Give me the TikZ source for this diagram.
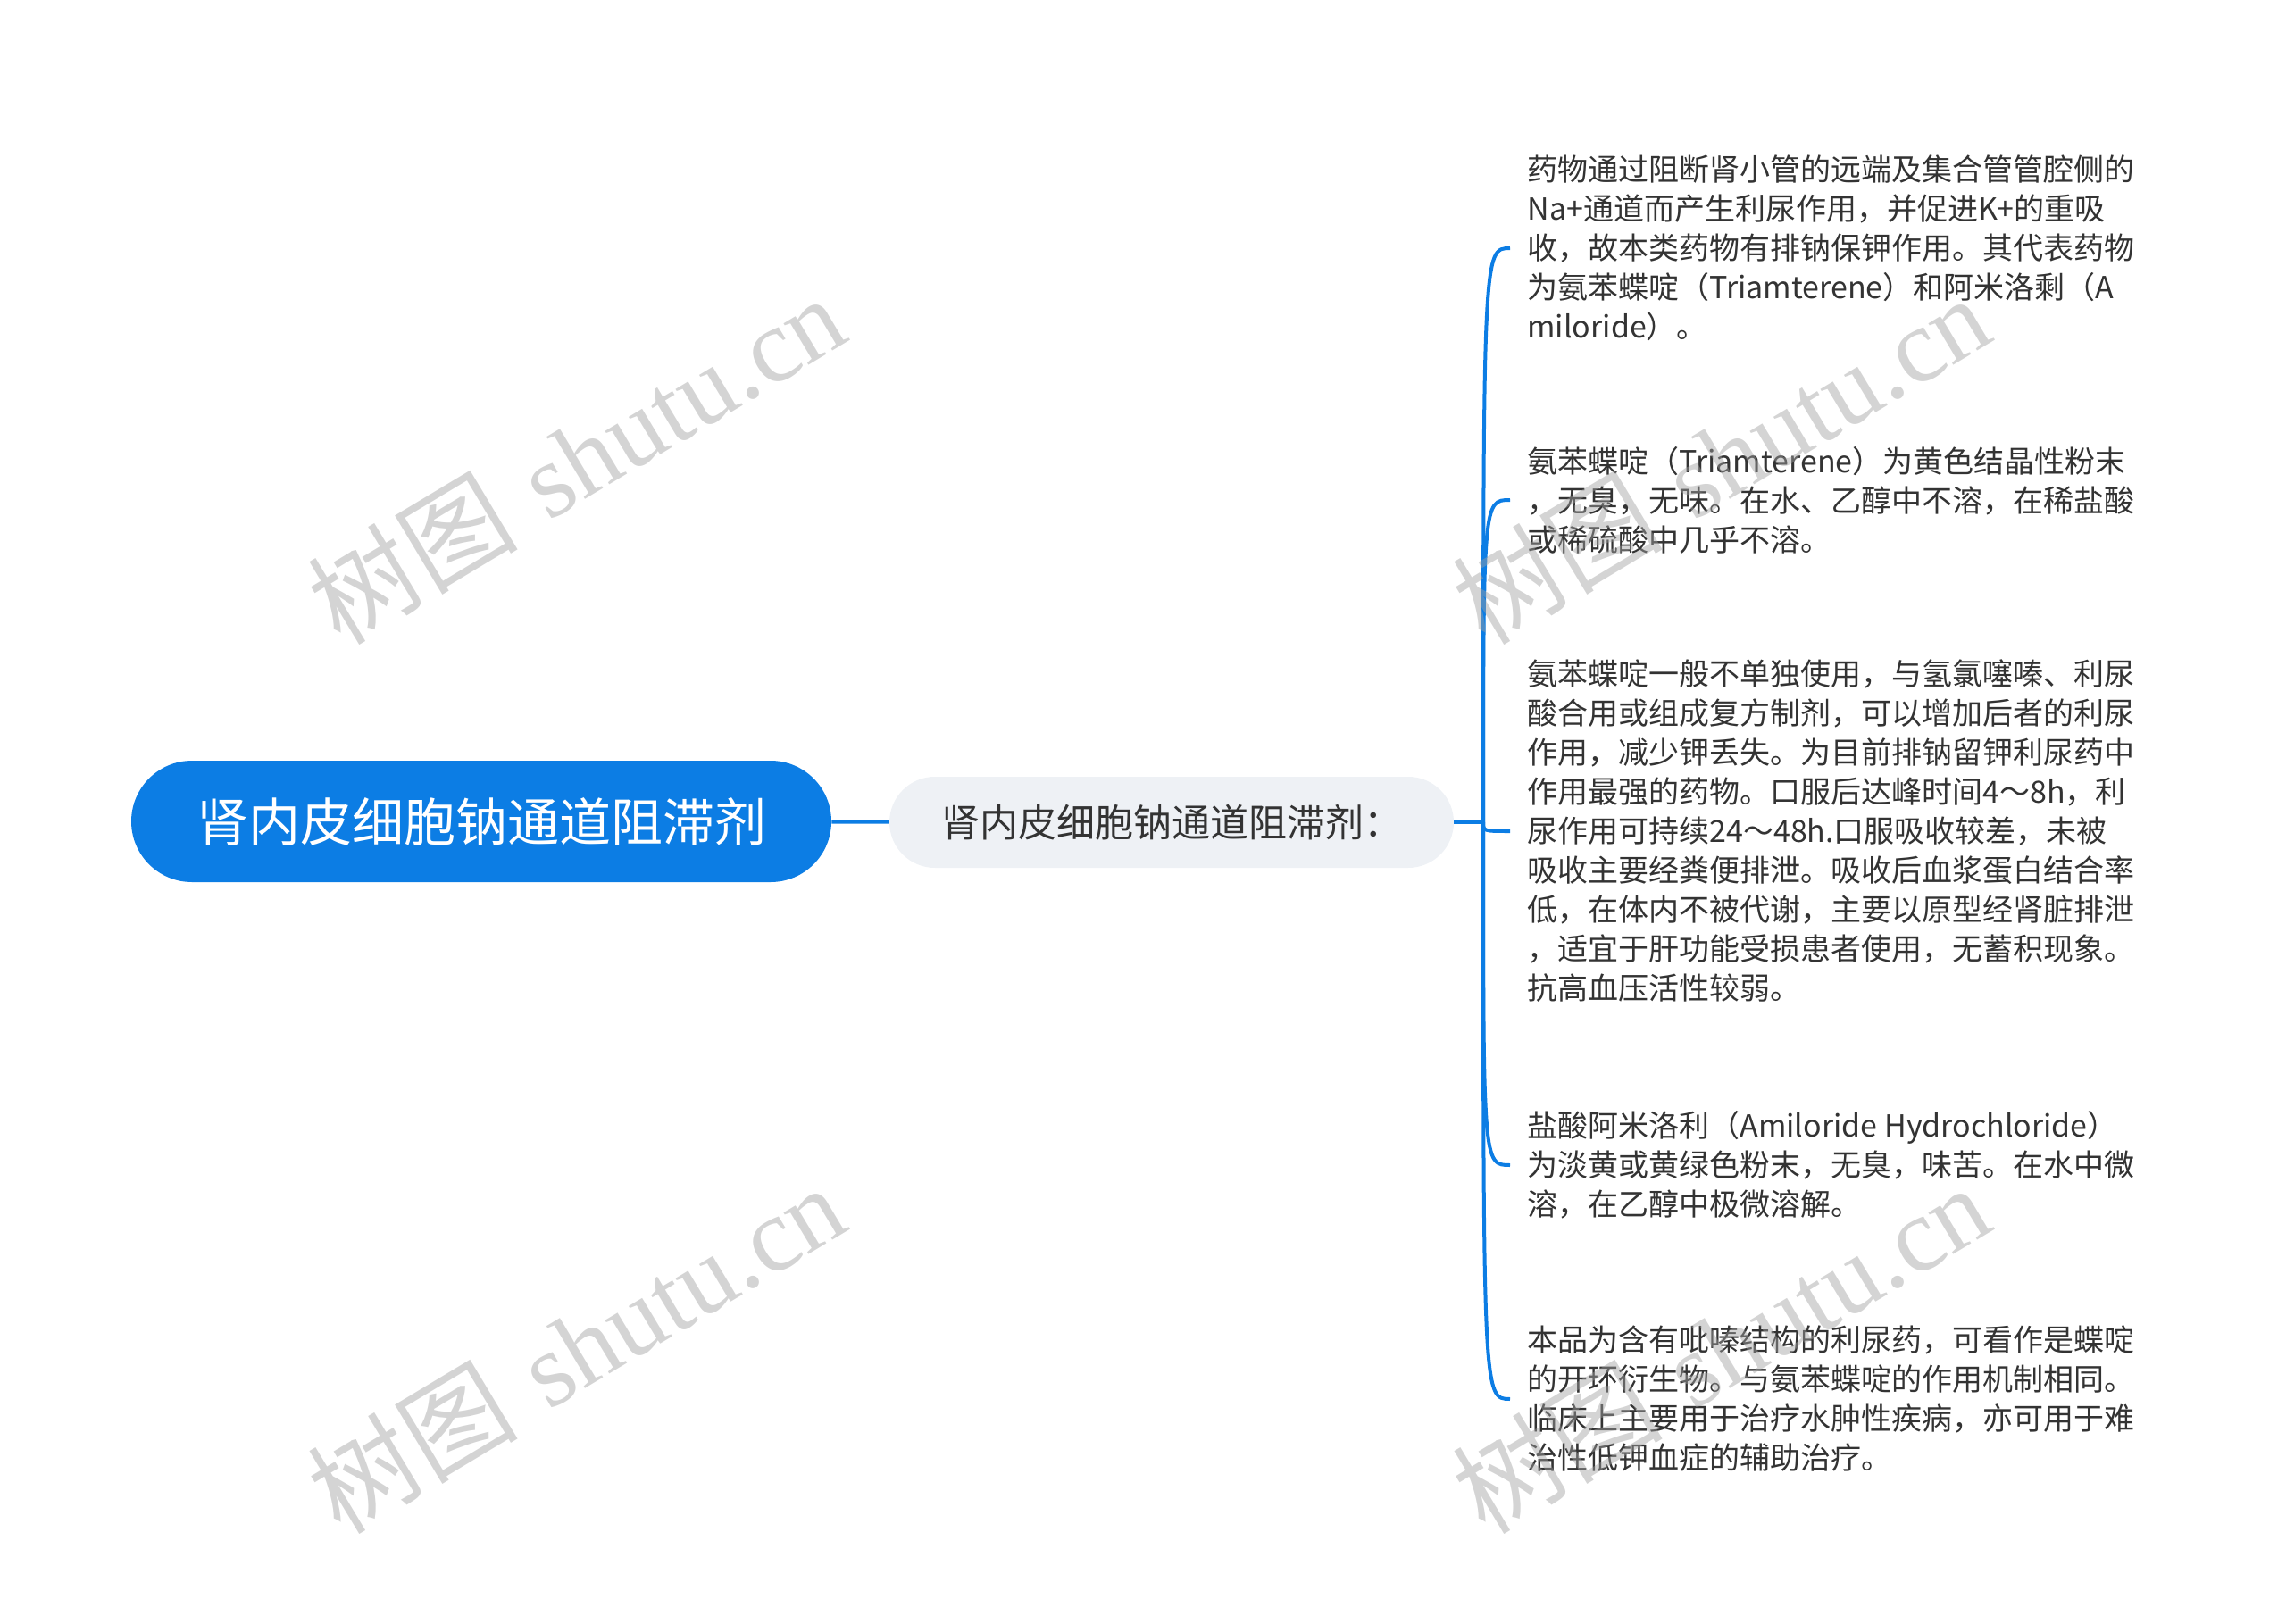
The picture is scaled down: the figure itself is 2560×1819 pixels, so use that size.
\documentclass[tikz,border=0pt]{standalone}
\usepackage{fontspec}
\newfontfamily\cjk{Noto Sans CJK SC}
\newfontfamily\wmlatin{Liberation Serif}
\definecolor{mapblue}{RGB}{12,125,228}
\definecolor{subgray}{RGB}{238,241,245}
\definecolor{leaftext}{RGB}{51,51,51}
\definecolor{wmgray}{RGB}{160,160,160}

\begin{document}
\begin{tikzpicture}[x = 0.5pt, y = -0.5pt,
    rootbox/.style = {fill = mapblue, text = white, rounded corners = 34pt,
      minimum width = 392pt, minimum height = 68pt, inner sep = 0pt,
      font = \cjk\fontsize{29pt}{35pt}\selectfont},
    subbox/.style = {fill = subgray, text = leaftext, rounded corners = 25.5pt,
      minimum width = 316pt, minimum height = 51pt, inner sep = 0pt,
      font = \cjk\fontsize{21.5pt}{26pt}\selectfont},
    leaf/.style = {anchor = west, align = left, text = leaftext, inner xsep = 9.5pt,
      font = \cjk\fontsize{17pt}{22pt}\selectfont},
    link/.style = {draw = mapblue, line width = 2pt},
    wmark/.style = {text = wmgray, opacity = .45, rotate = 31, inner sep = 0pt,
      font = \fontsize{59pt}{64pt}\selectfont}]
 \useasboundingbox (0,0) rectangle (2560,1819);

 \node[rootbox] (root) at (539,920) {肾内皮细胞钠通道阻滞剂};
 \node[subbox] (sub) at (1312,921) {肾内皮细胞钠通道阻滞剂：};
 \coordinate (hub) at (1661,921);

 \node[leaf] (l1) at (1691,278) {药物通过阻断肾小管的远端及集合管管腔侧的\\
  Na+通道而产生利尿作用，并促进K+的重吸\\
  收，故本类药物有排钠保钾作用。其代表药物\\
  为氨苯蝶啶（Triamterene）和阿米洛剩（A\\
  miloride）。};
 \node[leaf] (l2) at (1691,560) {氨苯蝶啶（Triamterene）为黄色结晶性粉末\\
  ，无臭，无味。在水、乙醇中不溶，在稀盐酸\\
  或稀硫酸中几乎不溶。};
 \node[leaf] (l3) at (1691,931) {氨苯蝶啶一般不单独使用，与氢氯噻嗪、利尿\\
  酸合用或组成复方制剂，可以增加后者的利尿\\
  作用，减少钾丢失。为目前排钠留钾利尿药中\\
  作用最强的药物。口服后达峰时间4～8h，利\\
  尿作用可持续24～48h.口服吸收较差，未被\\
  吸收主要经粪便排泄。吸收后血浆蛋白结合率\\
  低，在体内不被代谢，主要以原型经肾脏排泄\\
  ，适宜于肝功能受损患者使用，无蓄积现象。\\
  抗高血压活性较弱。};
 \node[leaf] (l4) at (1691,1305) {盐酸阿米洛利（Amiloride Hydrochloride）\\
  为淡黄或黄绿色粉末，无臭，味苦。在水中微\\
  溶，在乙醇中极微溶解。};
 \node[leaf] (l5) at (1691,1567) {本品为含有吡嗪结构的利尿药，可看作是蝶啶\\
  的开环衍生物。与氨苯蝶啶的作用机制相同。\\
  临床上主要用于治疗水肿性疾病，亦可用于难\\
  治性低钾血症的辅助治疗。};

 \draw[link] (root) -- (sub);
 \draw[link] (sub) -- (hub);
 \foreach \leafname in {l1,l2,l3,l4,l5}
  \draw[link] (hub) .. controls (hub |- \leafname.west) .. (\leafname.west);

 \node[wmark] (wm1) at (645,514) {{\cjk 树图} {\wmlatin shutu.cn}};
 \node[wmark] (wm2) at (645,1510) {{\cjk 树图} {\wmlatin shutu.cn}};
 \node[wmark] (wm3) at (1927,514) {{\cjk 树图} {\wmlatin shutu.cn}};
 \node[wmark] (wm4) at (1927,1510) {{\cjk 树图} {\wmlatin shutu.cn}};
\end{tikzpicture}
\end{document}
